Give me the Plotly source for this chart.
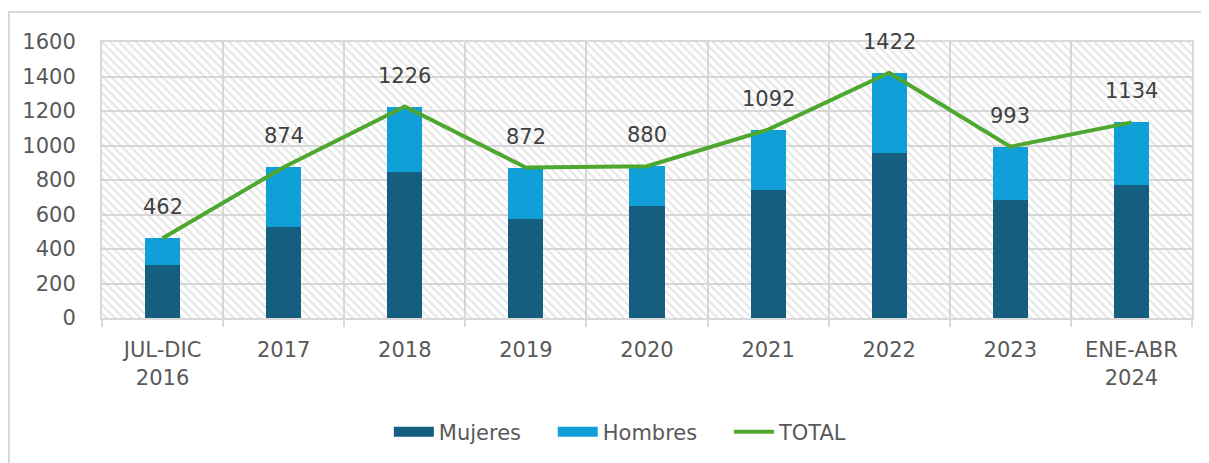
import plotly.graph_objects as go

categories = ["JUL-DIC<br>2016", "2017", "2018", "2019", "2020", "2021", "2022", "2023", "ENE-ABR<br>2024"]
mujeres = [310, 525, 845, 572, 651, 742, 958, 684, 773]
total = [462, 874, 1226, 872, 880, 1092, 1422, 993, 1134]
hombres = [t - m for t, m in zip(total, mujeres)]
y_ticks = [0, 200, 400, 600, 800, 1000, 1200, 1400, 1600]

Y_MAX = 1600
x = list(range(len(categories)))
TXT = "#595959"
GRID = "#d9d9d9"
FONT = "DejaVu Sans"
C_MUJ = "#155e80"
C_HOM = "#119fd7"
C_TOT = "#4ea72e"

fig = go.Figure()

# hatched plot-area background
fig.add_trace(go.Bar(
    x=x, y=[Y_MAX] * len(x), width=1, showlegend=False, hoverinfo="skip",
    marker=dict(color="rgba(0,0,0,0)", line=dict(width=0),
                pattern=dict(shape="\\", fgcolor="#cccccc", bgcolor="rgba(0,0,0,0)",
                             size=6, solidity=0.35, fillmode="overlay")),
))

fig.add_trace(go.Bar(
    x=x, y=mujeres, name="Mujeres", width=0.29, showlegend=False,
    marker=dict(color=C_MUJ, line=dict(width=0)),
))
fig.add_trace(go.Bar(
    x=x, y=hombres, base=mujeres, name="Hombres", width=0.29, showlegend=False,
    marker=dict(color=C_HOM, line=dict(width=0)),
))
fig.add_trace(go.Scatter(
    x=x, y=total, name="TOTAL", mode="lines", showlegend=False,
    line=dict(color=C_TOT, width=4),
))

# legend entries (wide rectangular swatches like the original)
GAP = "\u00a0\u00a0\u00a0\u00a0"
for name, col, w in [("Mujeres" + GAP, C_MUJ, 12), ("Hombres" + GAP, C_HOM, 12), ("TOTAL", C_TOT, 4)]:
    fig.add_trace(go.Scatter(x=[None], y=[None], mode="lines", name=name,
                             line=dict(color=col, width=w), hoverinfo="skip"))

for xi, t in zip(x, total):
    fig.add_annotation(x=xi, y=t, text=str(t), showarrow=False, yshift=31,
                       font=dict(family=FONT, size=21, color="#404040"))

# figure border
fig.add_shape(type="rect", xref="paper", yref="paper",
              x0=(1 - 94) / 1090, x1=1.05, y0=-0.53, y1=(310 - 4) / 276,
              line=dict(color="#d9d9d9", width=2), fillcolor="rgba(0,0,0,0)", layer="below")

fig.update_layout(
    width=1209, height=463,
    margin=dict(l=94, r=25, t=34, b=153),
    barmode="overlay",
    bargap=0,
    plot_bgcolor="white", paper_bgcolor="white",
    font=dict(family=FONT, size=21, color=TXT),
    showlegend=True,
    legend=dict(orientation="h", x=0.476, xanchor="center", y=-0.413, yanchor="middle",
                font=dict(family=FONT, size=21, color=TXT),
                traceorder="normal", itemwidth=40),
)

fig.update_xaxes(
    range=[-0.5, len(x) - 0.5],
    tickmode="array", tickvals=x, ticktext=categories,
    showgrid=False, ticks="", zeroline=False,
    showline=True, linecolor=GRID, linewidth=2, mirror=True,
    tickfont=dict(family=FONT, size=21, color=TXT),
    ticklabelstandoff=12,
    minor=dict(tickvals=[i - 0.5 for i in range(len(x) + 1)], showgrid=True,
               gridcolor=GRID, gridwidth=2, ticks="outside", ticklen=7,
               tickcolor=GRID, tickwidth=2),
)
fig.update_yaxes(
    range=[0, Y_MAX], tickmode="array", tickvals=y_ticks,
    showgrid=True, gridcolor=GRID, gridwidth=2, zeroline=False,
    showline=True, linecolor=GRID, linewidth=2, mirror=True,
    ticks="", ticklabelstandoff=20,
    tickfont=dict(family=FONT, size=21, color=TXT),
)

fig.write_html("out.html")
